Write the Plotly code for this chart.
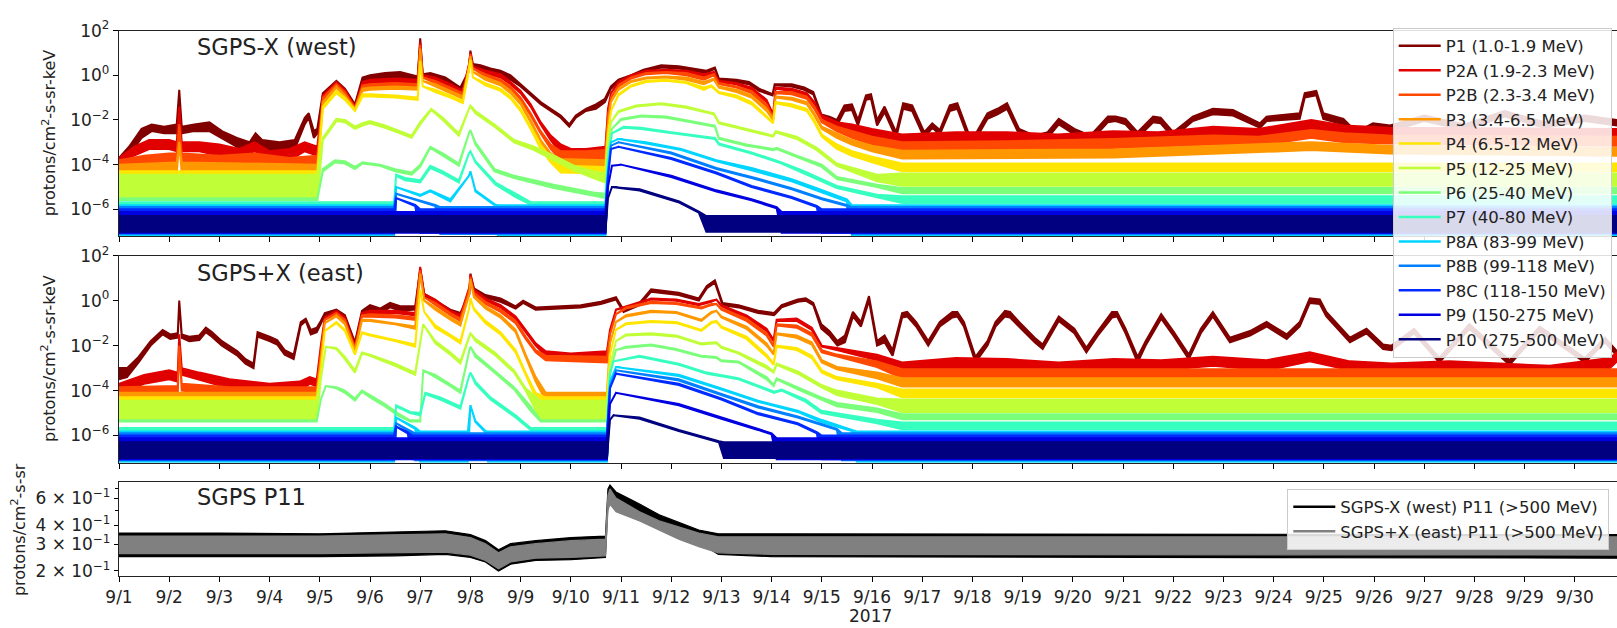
import numpy as np
import pandas as pd
import plotly.graph_objects as go

START = pd.Timestamp("2017-09-01")
X_END_DAYS = 29.84
DAY_TICKS = list(range(30))
DAY_LABELS = [f"9/{d + 1}" for d in DAY_TICKS]

CHANNELS = ["P1 (1.0-1.9 MeV)", "P2A (1.9-2.3 MeV)", "P2B (2.3-3.4 MeV)", "P3 (3.4-6.5 MeV)",
            "P4 (6.5-12 MeV)", "P5 (12-25 MeV)", "P6 (25-40 MeV)", "P7 (40-80 MeV)",
            "P8A (83-99 MeV)", "P8B (99-118 MeV)", "P8C (118-150 MeV)", "P9 (150-275 MeV)",
            "P10 (275-500 MeV)"]
P11_NAMES = ["SGPS-X (west) P11 (>500 MeV)", "SGPS+X (east) P11 (>500 MeV)"]

# ---- data: (day since 9/1 00:00, log10 flux low, log10 flux high) ----
W_P1 = [(0.00,-4.2,-3.7),(0.20,-3.6,-3.2),(0.45,-2.8,-2.4),(0.65,-2.5,-2.2),(0.90,-2.6,-2.3),(1.15,-2.6,-2.2),(1.20,-0.65,-0.65),(1.25,-2.6,-2.3),(1.50,-2.5,-2.2),(1.80,-2.5,-2.1),(2.05,-2.8,-2.5),(2.35,-3.2,-2.8),(2.60,-3.4,-3.0),(2.72,-2.9,-2.6),(2.85,-3.3,-2.9),(3.20,-3.4,-3.0),(3.50,-3.3,-2.9),(3.70,-2.2,-1.9),(3.78,-1.9,-1.7),(3.88,-2.8,-2.5),(3.95,-2.6,-2.4),(4.06,-0.9,-0.8),(4.33,-0.35,-0.25),(4.50,-0.8,-0.6),(4.70,-1.45,-1.3),(4.85,-0.3,-0.1),(5.00,-0.2,0.0),(5.30,-0.15,0.1),(5.60,-0.1,0.15),(5.95,-0.25,-0.05),(6.00,1.65,1.65),(6.05,0.0,0.05),(6.20,-0.1,0.1),(6.50,-0.3,-0.1),(6.80,-0.7,-0.55),(6.97,0.2,0.2),(7.00,1.1,1.1),(7.05,0.5,0.5),(7.20,0.25,0.45),(7.40,0.1,0.3),(7.60,0.0,0.2),(7.80,-0.2,0.0),(8.00,-0.5,-0.4),(8.20,-0.9,-0.8),(8.40,-1.3,-1.2),(8.60,-1.6,-1.5),(8.80,-1.9,-1.8),(8.97,-2.3,-2.2),(9.10,-1.9,-1.8),(9.30,-1.6,-1.5),(9.50,-1.5,-1.3),(9.68,-1.2,-1.05),(9.80,-0.6,-0.5),(9.95,-0.3,-0.2),(10.20,-0.05,0.0),(10.45,0.15,0.25),(10.80,0.35,0.45),(11.15,0.3,0.4),(11.45,0.2,0.3),(11.70,0.1,0.2),(11.87,0.3,0.35),(11.95,-0.2,-0.15),(12.30,-0.3,-0.2),(12.55,-0.4,-0.3),(12.75,-0.7,-0.6),(13.02,-0.9,-0.85),(13.06,-0.45,-0.4),(13.40,-0.5,-0.4),(13.65,-0.65,-0.55),(13.83,-0.85,-0.75),(13.99,-1.85,-1.75),(14.15,-2.05,-1.85),(14.30,-2.25,-2.0),(14.45,-1.6,-1.35),(14.60,-1.55,-1.3),(14.72,-2.25,-2.0),(14.88,-1.1,-0.9),(14.98,-1.05,-0.85),(15.10,-2.25,-2.0),(15.25,-1.65,-1.4),(15.48,-2.8,-2.55),(15.62,-1.5,-1.25),(15.80,-1.6,-1.35),(16.04,-2.8,-2.55),(16.20,-2.35,-2.15),(16.35,-2.65,-2.45),(16.55,-1.6,-1.35),(16.70,-1.5,-1.25),(16.98,-3.2,-2.95),(17.30,-1.95,-1.7),(17.50,-1.75,-1.5),(17.69,-1.5,-1.25),(17.93,-2.65,-2.4),(18.24,-2.95,-2.7),(18.50,-2.8,-2.55),(18.72,-2.2,-1.95),(19.03,-2.65,-2.4),(19.35,-2.95,-2.7),(19.70,-2.1,-1.85),(19.85,-2.05,-1.85),(20.05,-2.2,-1.95),(20.29,-2.8,-2.55),(20.60,-2.1,-1.85),(20.75,-2.15,-1.9),(21.00,-2.8,-2.55),(21.39,-2.05,-1.85),(21.79,-1.75,-1.5),(22.19,-1.8,-1.55),(22.73,-2.35,-2.15),(22.86,-2.05,-1.85),(23.52,-1.95,-1.7),(23.62,-1.0,-0.8),(23.85,-0.9,-0.7),(23.99,-1.95,-1.7),(24.39,-2.2,-1.95),(24.65,-2.8,-2.55),(24.98,-2.35,-2.15),(25.32,-2.5,-2.25),(26.00,-2.05,-1.8),(26.80,-2.45,-2.2),(27.60,-1.85,-1.6),(28.40,-2.35,-2.1),(29.20,-2.05,-1.8),(29.84,-2.25,-2.0)]
W_P2A = [(0.00,-4.1,-3.7),(0.30,-3.6,-3.2),(0.60,-3.3,-2.9),(1.00,-3.3,-2.9),(1.15,-3.4,-3.0),(1.20,-1.4,-1.4),(1.25,-3.4,-3.0),(1.60,-3.4,-3.0),(2.00,-3.6,-3.1),(2.40,-3.7,-3.3),(2.70,-3.4,-3.0),(3.00,-3.8,-3.4),(3.40,-3.8,-3.3),(3.70,-3.4,-3.0),(3.95,-3.6,-3.2),(4.06,-1.0,-0.9),(4.33,-0.35,-0.3),(4.50,-0.75,-0.65),(4.70,-1.45,-1.4),(4.85,-0.4,-0.3),(5.00,-0.35,-0.2),(5.50,-0.3,-0.15),(5.95,-0.35,-0.2),(6.00,1.5,1.5),(6.05,0.0,0.0),(6.30,-0.2,-0.1),(6.60,-0.5,-0.4),(6.85,-0.75,-0.7),(6.97,0.5,0.5),(7.00,1.0,1.0),(7.05,0.4,0.4),(7.30,0.1,0.2),(7.60,-0.1,0.05),(7.80,-0.4,-0.3),(8.00,-0.8,-0.7),(8.20,-1.4,-1.3),(8.40,-2.2,-2.1),(8.60,-2.9,-2.7),(8.80,-3.5,-3.1),(9.00,-3.7,-3.3),(9.30,-3.7,-3.3),(9.69,-3.6,-3.2),(9.74,-1.5,-1.5),(9.80,-0.8,-0.8),(9.95,-0.35,-0.3),(10.20,-0.05,0.0),(10.50,0.15,0.2),(10.90,0.2,0.25),(11.30,0.1,0.2),(11.65,-0.05,0.05),(11.85,0.1,0.15),(11.95,-0.3,-0.25),(12.30,-0.4,-0.35),(12.60,-0.65,-0.55),(12.90,-1.2,-1.1),(13.03,-1.8,-1.75),(13.08,-0.6,-0.55),(13.40,-0.7,-0.6),(13.70,-0.9,-0.8),(13.85,-1.3,-1.2),(14.00,-1.9,-1.8),(14.30,-2.3,-2.1),(14.60,-2.5,-2.2),(15.00,-2.8,-2.4),(15.60,-3.1,-2.65),(16.67,-2.95,-2.55),(17.70,-3.0,-2.55),(18.70,-3.1,-2.65),(19.80,-2.95,-2.5),(20.70,-3.0,-2.55),(21.80,-2.75,-2.3),(22.70,-2.85,-2.4),(23.75,-2.4,-2.0),(24.40,-2.65,-2.25),(25.30,-2.75,-2.35),(29.84,-2.85,-2.4)]
W_P2B = [(0.00,-4.3,-3.8),(0.50,-4.1,-3.6),(1.00,-4.0,-3.5),(1.15,-4.0,-3.5),(1.20,-2.2,-2.2),(1.25,-3.9,-3.5),(2.00,-4.2,-3.6),(2.70,-4.0,-3.5),(3.40,-4.3,-3.7),(3.95,-4.1,-3.6),(4.06,-1.1,-1.0),(4.33,-0.45,-0.4),(4.50,-0.85,-0.75),(4.70,-1.5,-1.45),(4.85,-0.55,-0.45),(5.00,-0.5,-0.4),(5.50,-0.45,-0.35),(5.95,-0.5,-0.4),(6.00,1.35,1.35),(6.05,-0.1,-0.1),(6.30,-0.35,-0.25),(6.60,-0.65,-0.55),(6.85,-0.9,-0.8),(6.97,0.4,0.4),(7.00,0.95,0.95),(7.05,0.3,0.3),(7.30,-0.05,0.05),(7.60,-0.3,-0.2),(7.80,-0.6,-0.5),(8.00,-1.1,-1.0),(8.20,-1.8,-1.7),(8.40,-2.6,-2.5),(8.60,-3.3,-3.1),(8.80,-3.8,-3.4),(9.30,-3.9,-3.4),(9.69,-3.8,-3.35),(9.74,-1.8,-1.8),(9.80,-1.0,-1.0),(9.95,-0.5,-0.45),(10.20,-0.15,-0.1),(10.50,0.05,0.1),(10.90,0.1,0.15),(11.30,0.0,0.1),(11.65,-0.2,-0.1),(11.85,0.0,0.05),(11.95,-0.4,-0.35),(12.30,-0.55,-0.5),(12.60,-0.8,-0.7),(12.90,-1.4,-1.3),(13.03,-1.95,-1.9),(13.08,-0.8,-0.75),(13.40,-0.85,-0.75),(13.70,-1.05,-0.95),(13.85,-1.5,-1.4),(14.00,-2.1,-2.0),(14.30,-2.5,-2.3),(14.60,-2.8,-2.5),(15.00,-3.1,-2.75),(15.60,-3.4,-3.0),(17.70,-3.35,-2.95),(19.80,-3.25,-2.85),(21.80,-3.1,-2.7),(22.70,-3.15,-2.75),(23.75,-2.8,-2.45),(24.40,-3.0,-2.6),(25.30,-3.05,-2.7),(29.84,-3.15,-2.75)]
W_P3 = [(0.00,-4.45,-4.0),(1.15,-4.4,-3.9),(1.20,-3.0,-3.0),(1.25,-4.4,-3.9),(3.95,-4.45,-4.0),(4.06,-1.3,-1.2),(4.33,-0.55,-0.5),(4.50,-1.0,-0.9),(4.70,-1.55,-1.5),(4.85,-0.7,-0.6),(5.00,-0.65,-0.55),(5.50,-0.6,-0.5),(5.95,-0.65,-0.55),(6.00,1.2,1.2),(6.05,-0.25,-0.25),(6.30,-0.5,-0.4),(6.60,-0.8,-0.7),(6.85,-1.05,-0.95),(6.97,0.3,0.3),(7.00,0.85,0.85),(7.05,0.15,0.15),(7.30,-0.2,-0.1),(7.60,-0.45,-0.35),(7.80,-0.8,-0.7),(8.00,-1.3,-1.2),(8.20,-2.1,-2.0),(8.40,-3.0,-2.9),(8.60,-3.7,-3.5),(8.80,-4.1,-3.75),(9.69,-4.15,-3.8),(9.74,-2.2,-2.2),(9.80,-1.2,-1.2),(9.95,-0.65,-0.6),(10.20,-0.3,-0.25),(10.50,-0.15,-0.1),(10.90,-0.1,-0.05),(11.30,-0.2,-0.1),(11.65,-0.4,-0.3),(11.85,-0.2,-0.15),(11.95,-0.55,-0.5),(12.30,-0.75,-0.65),(12.60,-1.0,-0.9),(12.90,-1.6,-1.5),(13.03,-2.0,-1.95),(13.08,-1.0,-0.95),(13.40,-1.1,-1.0),(13.70,-1.3,-1.2),(13.85,-1.8,-1.7),(14.00,-2.4,-2.3),(14.30,-2.8,-2.6),(14.60,-3.1,-2.9),(15.00,-3.4,-3.15),(15.60,-3.72,-3.38),(19.80,-3.68,-3.32),(21.80,-3.5,-3.15),(23.75,-3.35,-3.0),(25.30,-3.5,-3.15),(29.84,-3.6,-3.25)]
W_P4 = [(0.00,-4.55,-4.3),(3.95,-4.55,-4.3),(4.06,-1.5,-1.4),(4.33,-0.8,-0.7),(4.50,-1.1,-1.0),(4.70,-1.6,-1.55),(4.85,-0.95,-0.85),(5.00,-0.95,-0.85),(5.50,-1.0,-0.9),(5.95,-1.1,-1.0),(6.00,0.65,0.65),(6.05,-0.5,-0.5),(6.30,-0.75,-0.65),(6.60,-1.0,-0.9),(6.85,-1.25,-1.15),(6.97,0.2,0.2),(7.00,0.7,0.7),(7.05,-0.1,-0.1),(7.30,-0.45,-0.35),(7.60,-0.7,-0.6),(7.80,-1.05,-0.95),(8.00,-1.6,-1.5),(8.20,-2.4,-2.3),(8.40,-3.3,-3.1),(8.60,-3.9,-3.7),(8.80,-4.35,-4.05),(9.69,-4.4,-4.1),(9.74,-2.6,-2.6),(9.80,-1.6,-1.6),(9.95,-0.9,-0.85),(10.20,-0.5,-0.45),(10.50,-0.3,-0.25),(10.90,-0.25,-0.2),(11.30,-0.35,-0.3),(11.65,-0.65,-0.55),(11.80,-0.5,-0.45),(11.95,-0.8,-0.75),(12.30,-1.0,-0.9),(12.60,-1.3,-1.2),(12.90,-1.9,-1.8),(13.03,-2.15,-2.1),(13.08,-1.25,-1.2),(13.40,-1.4,-1.3),(13.70,-1.6,-1.5),(13.85,-2.1,-2.0),(14.00,-2.75,-2.65),(14.30,-3.3,-3.1),(14.60,-3.6,-3.4),(15.00,-3.9,-3.65),(15.60,-4.3,-3.95),(29.84,-4.3,-3.95)]
W_P5 = [(0.00,-5.55,-4.45),(3.95,-5.55,-4.45),(4.06,-2.9,-2.8),(4.33,-2.05,-1.95),(4.50,-2.1,-2.0),(4.70,-2.4,-2.3),(4.85,-2.25,-2.15),(5.00,-2.15,-2.05),(5.30,-2.35,-2.25),(5.60,-2.6,-2.5),(5.83,-2.8,-2.7),(6.00,-2.2,-2.1),(6.22,-1.55,-1.5),(6.45,-2.0,-1.9),(6.77,-2.7,-2.6),(6.97,-1.5,-1.5),(7.00,-1.4,-1.35),(7.10,-1.7,-1.6),(7.48,-2.3,-2.2),(7.87,-3.0,-2.9),(8.27,-3.35,-3.2),(8.66,-3.8,-3.6),(9.06,-4.25,-4.05),(9.45,-4.6,-4.3),(9.69,-4.8,-4.4),(9.74,-3.0,-3.0),(9.80,-2.1,-2.1),(9.95,-1.65,-1.6),(10.30,-1.4,-1.35),(10.80,-1.3,-1.25),(11.30,-1.45,-1.4),(11.65,-1.65,-1.6),(11.85,-1.75,-1.7),(11.95,-2.15,-2.1),(12.50,-2.45,-2.4),(13.03,-2.75,-2.7),(13.08,-2.55,-2.5),(13.50,-2.85,-2.75),(13.90,-3.35,-3.25),(14.30,-4.05,-3.95),(15.10,-4.75,-4.45),(15.60,-4.95,-4.4),(29.84,-4.95,-4.4)]
W_P6 = [(0.00,-5.58,-5.5),(3.95,-5.58,-5.5),(4.06,-4.3,-4.2),(4.30,-3.9,-3.8),(4.50,-3.95,-3.85),(4.70,-4.2,-4.1),(4.85,-3.95,-3.9),(5.20,-4.05,-4.0),(5.50,-4.3,-4.2),(5.83,-4.45,-4.35),(6.00,-4.1,-4.0),(6.20,-3.25,-3.2),(6.45,-3.6,-3.5),(6.77,-4.05,-3.95),(6.97,-2.6,-2.6),(7.00,-2.45,-2.45),(7.10,-3.1,-3.0),(7.48,-4.3,-4.2),(7.87,-4.6,-4.5),(8.66,-5.05,-4.9),(9.45,-5.4,-5.25),(9.69,-5.5,-5.3),(9.74,-3.4,-3.4),(9.82,-2.4,-2.4),(10.00,-2.0,-1.95),(10.40,-1.85,-1.8),(10.90,-1.9,-1.85),(11.40,-2.1,-2.05),(11.87,-2.3,-2.25),(11.95,-2.85,-2.8),(12.50,-3.15,-3.1),(13.03,-3.35,-3.3),(13.10,-3.3,-3.25),(13.50,-3.65,-3.6),(14.00,-4.1,-4.0),(14.30,-4.65,-4.55),(15.10,-5.0,-4.9),(15.60,-5.28,-5.05),(29.84,-5.28,-5.05)]
W_P7 = [(0.00,-5.78,-5.68),(5.48,-5.78,-5.68),(5.52,-4.5,-4.45),(5.70,-4.7,-4.6),(6.00,-4.8,-4.7),(6.20,-4.15,-4.05),(6.45,-4.4,-4.3),(6.77,-4.8,-4.7),(6.97,-3.5,-3.5),(7.00,-3.4,-3.4),(7.10,-3.9,-3.85),(7.50,-4.9,-4.8),(7.90,-5.45,-5.3),(8.20,-5.78,-5.68),(9.69,-5.78,-5.68),(9.74,-3.8,-3.8),(9.82,-2.6,-2.6),(10.05,-2.35,-2.3),(10.40,-2.4,-2.35),(11.00,-2.6,-2.55),(11.87,-2.85,-2.8),(11.95,-3.1,-3.05),(12.60,-3.5,-3.45),(13.20,-3.95,-3.9),(13.60,-4.35,-4.25),(14.00,-4.75,-4.65),(14.30,-5.05,-4.95),(15.10,-5.45,-5.35),(15.60,-5.72,-5.42),(29.84,-5.72,-5.42)]
W_P8A = [(0.00,-7.2,-5.82),(5.48,-7.2,-5.82),(5.52,-5.0,-5.0),(6.00,-5.4,-5.35),(6.20,-5.2,-5.15),(6.60,-5.65,-5.55),(6.97,-4.5,-4.5),(7.00,-4.3,-4.3),(7.10,-5.2,-5.15),(7.50,-5.85,-5.8),(7.55,-7.2,-5.82),(9.69,-7.2,-5.82),(9.74,-4.2,-4.2),(9.80,-3.0,-3.0),(9.95,-2.85,-2.85),(10.50,-3.05,-3.0),(11.20,-3.35,-3.3),(11.90,-3.85,-3.8),(12.60,-4.25,-4.15),(13.40,-4.75,-4.65),(13.90,-5.15,-5.05),(14.50,-5.65,-5.55),(14.60,-7.2,-5.82),(29.84,-7.2,-5.82)]
W_P8B = [(0.00,-7.1,-5.9),(5.48,-7.1,-5.9),(5.52,-5.3,-5.3),(6.00,-5.65,-5.6),(6.30,-5.85,-5.8),(6.40,-7.1,-5.9),(9.69,-7.1,-5.9),(9.74,-4.4,-4.4),(9.80,-3.15,-3.15),(9.95,-3.0,-3.0),(11.00,-3.5,-3.45),(11.90,-4.2,-4.15),(12.60,-4.6,-4.55),(13.40,-5.1,-5.05),(14.00,-5.55,-5.5),(14.50,-5.85,-5.8),(14.60,-7.1,-5.9),(29.84,-7.1,-5.9)]
W_P8C = [(0.00,-7.05,-6.0),(5.48,-7.05,-6.0),(5.52,-5.5,-5.5),(5.90,-5.85,-5.8),(6.00,-7.05,-6.0),(9.69,-7.05,-6.0),(9.74,-4.6,-4.6),(9.80,-3.3,-3.3),(9.95,-3.2,-3.2),(11.00,-3.75,-3.7),(11.90,-4.4,-4.35),(12.60,-5.0,-4.95),(13.40,-5.5,-5.45),(13.90,-5.9,-5.85),(14.00,-7.05,-6.0),(29.84,-7.05,-6.0)]
W_P9 = [(0.00,-7.05,-6.12),(9.69,-7.05,-6.12),(9.74,-5.0,-5.0),(9.82,-4.05,-4.05),(10.00,-4.0,-4.0),(11.00,-4.55,-4.5),(11.90,-5.2,-5.15),(12.60,-5.6,-5.55),(13.10,-5.95,-5.9),(13.20,-7.05,-6.12),(29.84,-7.05,-6.12)]
W_P10 = [(0.00,-7.0,-6.3),(9.69,-7.0,-6.3),(9.74,-5.5,-5.5),(9.82,-5.0,-5.0),(10.37,-5.16,-5.1),(11.16,-5.7,-5.65),(11.55,-6.15,-6.1),(11.70,-7.0,-6.3),(29.84,-7.0,-6.3)]

E_P1 = [(0.00,-3.5,-3.0),(0.16,-3.4,-3.0),(0.39,-2.75,-2.5),(0.63,-2.0,-1.8),(0.87,-1.5,-1.3),(1.02,-1.7,-1.5),(1.17,-1.65,-1.45),(1.20,0.0,0.0),(1.25,-1.65,-1.5),(1.40,-1.8,-1.6),(1.60,-1.75,-1.55),(1.73,-1.4,-1.2),(1.85,-1.6,-1.4),(2.05,-2.0,-1.8),(2.36,-2.45,-2.25),(2.52,-2.8,-2.6),(2.68,-3.0,-2.8),(2.76,-1.6,-1.4),(3.00,-1.8,-1.6),(3.15,-1.95,-1.75),(3.30,-2.4,-2.2),(3.48,-2.6,-2.4),(3.62,-1.1,-0.95),(3.72,-0.9,-0.8),(3.82,-1.5,-1.3),(3.94,-1.4,-1.2),(4.02,-1.0,-0.9),(4.10,-0.65,-0.55),(4.33,-0.5,-0.4),(4.50,-0.75,-0.65),(4.70,-1.95,-1.85),(4.84,-0.55,-0.45),(5.00,-0.4,-0.2),(5.20,-0.55,-0.35),(5.40,-0.3,-0.1),(5.60,-0.45,-0.25),(5.90,-0.4,-0.25),(6.00,1.4,1.4),(6.08,0.2,0.3),(6.30,-0.1,0.0),(6.60,-0.5,-0.4),(6.80,-0.65,-0.55),(6.98,0.3,0.3),(7.00,1.2,1.2),(7.07,0.45,0.55),(7.30,0.15,0.25),(7.60,-0.05,0.1),(7.90,-0.35,-0.25),(8.05,-0.1,0.0),(8.30,-0.4,-0.3),(8.80,-0.35,-0.25),(9.20,-0.3,-0.2),(9.60,-0.15,-0.05),(9.90,0.05,0.15),(10.05,-0.5,-0.4),(10.37,-0.2,-0.1),(10.60,0.4,0.5),(11.15,0.25,0.35),(11.55,0.0,0.1),(11.71,0.55,0.65),(11.87,0.8,0.9),(12.02,-0.2,-0.1),(12.34,-0.3,-0.2),(12.73,-0.55,-0.45),(13.05,-0.65,-0.55),(13.20,-0.3,-0.2),(13.52,-0.05,0.05),(13.68,0.0,0.1),(13.83,-0.2,-0.1),(13.99,-1.25,-1.05),(14.15,-1.55,-1.35),(14.31,-2.0,-1.8),(14.46,-1.85,-1.55),(14.62,-0.7,-0.5),(14.78,-1.15,-0.95),(14.94,0.0,0.2),(15.10,-2.0,-1.8),(15.25,-1.85,-1.55),(15.41,-2.45,-2.2),(15.60,-0.75,-0.55),(15.70,-0.7,-0.5),(15.88,-1.15,-0.95),(16.12,-2.0,-1.8),(16.35,-1.15,-0.95),(16.60,-0.75,-0.5),(16.70,-0.7,-0.5),(16.83,-1.15,-0.95),(17.06,-2.75,-2.5),(17.30,-2.0,-1.8),(17.46,-1.15,-0.95),(17.65,-0.7,-0.45),(17.75,-0.75,-0.5),(17.93,-1.15,-0.95),(18.24,-1.85,-1.65),(18.40,-2.15,-1.95),(18.72,-0.9,-0.7),(19.03,-1.45,-1.25),(19.27,-2.3,-2.1),(19.50,-1.55,-1.35),(19.78,-0.75,-0.5),(19.88,-0.7,-0.5),(20.05,-1.45,-1.25),(20.29,-2.75,-2.5),(20.45,-2.0,-1.8),(20.76,-0.8,-0.6),(21.00,-1.55,-1.35),(21.31,-2.6,-2.4),(21.55,-1.45,-1.25),(21.79,-0.7,-0.5),(22.13,-1.85,-1.65),(22.53,-1.55,-1.35),(22.86,-1.15,-0.95),(23.26,-1.7,-1.5),(23.52,-1.15,-0.95),(23.72,-0.1,0.1),(23.92,-0.15,0.05),(24.05,-0.7,-0.5),(24.52,-1.85,-1.65),(24.85,-1.45,-1.25),(25.18,-2.15,-1.95),(25.35,-2.2,-2.0),(25.80,-1.45,-1.25),(26.30,-2.75,-2.55),(26.90,-1.25,-1.05),(27.70,-2.85,-2.65),(28.30,-1.35,-1.15),(29.20,-2.75,-2.55),(29.60,-1.85,-1.65),(29.84,-2.45,-2.25)]
E_P2A = [(0.00,-4.1,-3.7),(0.50,-3.7,-3.3),(1.00,-3.5,-3.1),(1.17,-3.6,-3.2),(1.20,-1.5,-1.5),(1.25,-3.3,-3.0),(1.60,-3.5,-3.2),(2.20,-3.9,-3.5),(3.00,-4.1,-3.7),(3.60,-4.0,-3.6),(3.80,-3.7,-3.4),(3.94,-3.8,-3.5),(4.02,-2.0,-2.0),(4.10,-0.75,-0.75),(4.33,-0.5,-0.45),(4.50,-0.8,-0.75),(4.70,-2.05,-2.0),(4.84,-0.6,-0.55),(5.00,-0.55,-0.45),(5.50,-0.55,-0.45),(5.90,-0.65,-0.55),(6.00,1.5,1.5),(6.08,0.3,0.3),(6.30,-0.05,0.05),(6.60,-0.5,-0.45),(6.80,-0.75,-0.65),(6.98,0.6,0.6),(7.00,1.15,1.15),(7.07,0.4,0.5),(7.30,0.0,0.1),(7.60,-0.3,-0.2),(7.90,-0.8,-0.7),(8.10,-1.4,-1.3),(8.30,-2.0,-1.9),(8.50,-2.45,-2.25),(9.00,-2.55,-2.35),(9.72,-2.45,-2.25),(9.78,-1.3,-1.3),(9.90,-0.4,-0.4),(10.10,-0.3,-0.25),(10.60,0.05,0.1),(11.10,0.0,0.05),(11.55,-0.2,-0.15),(11.80,-0.05,0.0),(11.90,0.05,0.05),(12.00,-0.25,-0.2),(12.50,-0.75,-0.65),(12.90,-1.35,-1.25),(13.04,-1.8,-1.75),(13.10,-0.9,-0.85),(13.50,-0.9,-0.8),(13.80,-1.3,-1.2),(14.00,-2.05,-2.0),(14.30,-2.2,-2.1),(15.10,-2.65,-2.4),(15.60,-3.2,-2.75),(16.67,-3.0,-2.55),(17.69,-3.0,-2.6),(18.72,-3.2,-2.75),(19.82,-3.0,-2.6),(20.76,-3.1,-2.65),(21.79,-2.9,-2.5),(22.86,-3.1,-2.65),(23.72,-2.7,-2.3),(24.52,-3.1,-2.7),(25.35,-3.2,-2.8),(26.50,-3.1,-2.7),(27.50,-3.2,-2.8),(28.50,-3.3,-2.9),(29.70,-3.0,-2.55),(29.84,-2.7,-2.3)]
E_P2B = [(0.00,-4.3,-3.85),(1.17,-4.2,-3.8),(1.20,-2.0,-2.0),(1.25,-4.0,-3.7),(2.20,-4.3,-3.85),(3.94,-4.3,-3.85),(4.02,-2.3,-2.3),(4.10,-0.85,-0.85),(4.33,-0.6,-0.55),(4.50,-0.9,-0.85),(4.70,-2.15,-2.1),(4.84,-0.7,-0.65),(5.00,-0.7,-0.6),(5.50,-0.75,-0.65),(5.90,-0.85,-0.75),(6.00,1.35,1.35),(6.08,0.15,0.15),(6.30,-0.2,-0.1),(6.60,-0.65,-0.55),(6.80,-0.9,-0.8),(6.98,0.5,0.5),(7.00,1.05,1.05),(7.07,0.3,0.35),(7.30,-0.15,-0.05),(7.60,-0.5,-0.4),(7.90,-1.0,-0.9),(8.10,-1.7,-1.6),(8.30,-2.3,-2.2),(8.50,-2.65,-2.45),(9.72,-2.75,-2.5),(9.78,-1.5,-1.5),(9.90,-0.6,-0.6),(10.10,-0.35,-0.3),(10.60,-0.1,-0.05),(11.10,-0.15,-0.1),(11.60,-0.35,-0.3),(11.80,-0.2,-0.15),(11.90,-0.15,-0.15),(12.00,-0.4,-0.35),(12.50,-0.9,-0.8),(12.90,-1.55,-1.45),(13.04,-2.05,-2.0),(13.10,-1.1,-1.05),(13.50,-1.2,-1.1),(13.80,-1.55,-1.45),(14.00,-2.3,-2.2),(14.30,-2.5,-2.4),(15.10,-2.95,-2.7),(15.60,-3.45,-3.05),(29.84,-3.45,-3.05)]
E_P3 = [(0.00,-4.45,-4.1),(3.94,-4.45,-4.1),(4.02,-2.6,-2.6),(4.10,-1.0,-1.0),(4.33,-0.7,-0.65),(4.50,-1.05,-1.0),(4.70,-2.25,-2.2),(4.84,-0.9,-0.85),(5.00,-0.9,-0.85),(5.50,-1.05,-1.0),(5.90,-1.25,-1.15),(6.00,1.2,1.2),(6.08,0.0,0.0),(6.30,-0.4,-0.3),(6.60,-0.85,-0.75),(6.80,-1.1,-1.0),(6.98,0.3,0.3),(7.00,0.95,0.95),(7.07,0.15,0.2),(7.30,-0.35,-0.25),(7.60,-0.75,-0.65),(7.90,-1.4,-1.3),(8.10,-2.5,-2.4),(8.30,-3.6,-3.4),(8.50,-4.45,-4.1),(9.72,-4.45,-4.1),(9.78,-1.9,-1.9),(9.90,-0.95,-0.95),(10.10,-0.7,-0.65),(10.60,-0.5,-0.45),(11.10,-0.55,-0.5),(11.60,-0.9,-0.85),(11.80,-0.55,-0.5),(11.90,-0.45,-0.45),(12.00,-0.75,-0.7),(12.50,-1.25,-1.15),(12.90,-2.0,-1.9),(13.04,-2.4,-2.35),(13.10,-1.5,-1.45),(13.50,-1.65,-1.55),(13.80,-1.95,-1.85),(14.00,-2.75,-2.65),(14.30,-3.05,-2.95),(15.10,-3.45,-3.2),(15.60,-3.82,-3.45),(29.84,-3.82,-3.45)]
E_P4 = [(0.00,-4.55,-4.3),(3.94,-4.55,-4.3),(4.02,-3.0,-3.0),(4.10,-1.35,-1.35),(4.33,-1.0,-0.95),(4.50,-1.35,-1.3),(4.70,-2.4,-2.35),(4.84,-1.45,-1.4),(5.00,-1.55,-1.5),(5.50,-1.8,-1.75),(5.90,-2.05,-1.95),(6.00,0.5,0.5),(6.08,-0.5,-0.5),(6.30,-1.2,-1.1),(6.60,-1.6,-1.5),(6.80,-1.9,-1.8),(6.98,-0.3,-0.3),(7.00,0.1,0.1),(7.07,-0.4,-0.35),(7.30,-1.0,-0.9),(7.60,-1.5,-1.4),(7.90,-2.3,-2.2),(8.10,-3.3,-3.2),(8.30,-4.3,-4.1),(8.50,-4.55,-4.3),(9.72,-4.55,-4.3),(9.78,-2.4,-2.4),(9.90,-1.3,-1.3),(10.10,-1.05,-1.0),(10.60,-0.95,-0.9),(11.10,-1.0,-0.95),(11.60,-1.35,-1.3),(11.80,-1.0,-0.95),(11.90,-0.95,-0.9),(12.00,-1.2,-1.15),(12.50,-1.7,-1.6),(12.90,-2.5,-2.4),(13.04,-2.85,-2.8),(13.10,-2.05,-2.0),(13.50,-2.2,-2.1),(13.80,-2.55,-2.45),(14.00,-3.2,-3.1),(14.30,-3.5,-3.4),(15.10,-3.85,-3.7),(15.60,-4.3,-3.95),(29.84,-4.3,-3.95)]
E_P5 = [(0.00,-5.3,-4.45),(3.94,-5.3,-4.45),(4.02,-3.5,-3.5),(4.12,-2.05,-2.05),(4.33,-2.15,-2.1),(4.50,-2.6,-2.5),(4.70,-3.2,-3.1),(4.84,-2.35,-2.3),(5.00,-2.45,-2.4),(5.50,-2.9,-2.8),(5.90,-3.3,-3.2),(6.00,-1.9,-1.9),(6.06,-1.05,-1.05),(6.30,-1.9,-1.8),(6.60,-2.4,-2.3),(6.80,-2.8,-2.7),(6.98,-1.6,-1.6),(7.00,-1.45,-1.45),(7.10,-1.8,-1.7),(7.48,-2.4,-2.3),(7.87,-3.2,-3.1),(8.10,-4.0,-3.9),(8.40,-5.3,-4.45),(9.72,-5.3,-4.45),(9.78,-2.9,-2.9),(9.90,-1.8,-1.8),(10.10,-1.55,-1.5),(10.60,-1.5,-1.45),(11.10,-1.6,-1.55),(11.60,-1.95,-1.9),(11.90,-1.9,-1.85),(12.00,-2.1,-2.05),(12.34,-2.35,-2.3),(12.90,-3.0,-2.9),(13.04,-3.2,-3.15),(13.10,-2.85,-2.8),(13.52,-3.25,-3.15),(13.99,-3.85,-3.75),(14.30,-4.2,-4.0),(15.10,-4.6,-4.35),(15.60,-4.95,-4.4),(29.84,-4.95,-4.4)]
E_P6 = [(0.00,-5.38,-5.32),(3.94,-5.38,-5.32),(4.02,-4.4,-4.4),(4.12,-3.8,-3.8),(4.33,-3.9,-3.85),(4.50,-4.1,-4.0),(4.70,-4.45,-4.35),(4.84,-4.05,-4.0),(5.00,-4.3,-4.2),(5.30,-4.7,-4.6),(5.55,-5.1,-5.0),(5.80,-5.38,-5.32),(6.00,-5.38,-5.32),(6.06,-3.1,-3.1),(6.30,-3.4,-3.3),(6.60,-3.8,-3.7),(6.80,-4.1,-4.0),(6.98,-2.2,-2.2),(7.00,-2.05,-2.05),(7.10,-2.5,-2.4),(7.48,-3.2,-3.1),(7.87,-3.95,-3.85),(8.20,-4.9,-4.7),(8.40,-5.38,-5.32),(9.72,-5.38,-5.32),(9.78,-3.2,-3.2),(9.90,-2.2,-2.2),(10.10,-2.1,-2.05),(10.60,-2.0,-1.95),(11.10,-2.2,-2.15),(11.60,-2.5,-2.45),(11.90,-2.55,-2.5),(12.00,-2.7,-2.65),(12.34,-2.75,-2.7),(12.90,-3.5,-3.4),(13.04,-3.8,-3.75),(13.10,-3.5,-3.45),(13.52,-3.95,-3.85),(13.99,-4.4,-4.3),(14.30,-4.7,-4.55),(15.10,-4.95,-4.8),(15.60,-5.28,-5.05),(29.84,-5.28,-5.05)]
E_P7 = [(0.00,-5.75,-5.66),(5.48,-5.75,-5.66),(5.52,-4.7,-4.65),(5.80,-5.0,-4.95),(6.00,-5.1,-5.0),(6.10,-4.15,-4.1),(6.40,-4.4,-4.3),(6.80,-4.8,-4.7),(6.98,-3.3,-3.3),(7.00,-3.2,-3.2),(7.10,-3.7,-3.6),(7.40,-4.4,-4.3),(7.90,-5.2,-5.1),(8.20,-5.75,-5.66),(9.72,-5.75,-5.66),(9.78,-3.3,-3.3),(9.85,-2.7,-2.7),(10.37,-2.5,-2.45),(11.15,-2.85,-2.8),(11.71,-3.25,-3.2),(12.34,-3.5,-3.45),(13.05,-4.1,-4.05),(13.20,-4.0,-3.95),(13.68,-4.5,-4.4),(13.99,-5.0,-4.9),(15.10,-5.45,-5.3),(15.60,-5.72,-5.42),(29.84,-5.72,-5.42)]
E_P8A = [(0.00,-7.2,-5.82),(5.48,-7.2,-5.82),(5.52,-5.2,-5.2),(5.90,-5.7,-5.65),(6.00,-7.2,-5.82),(6.95,-7.2,-5.82),(7.00,-4.65,-4.65),(7.10,-5.4,-5.35),(7.30,-5.85,-5.8),(7.35,-7.2,-5.82),(9.72,-7.2,-5.82),(9.78,-3.6,-3.6),(9.90,-2.95,-2.95),(11.15,-3.35,-3.3),(12.00,-3.95,-3.9),(12.73,-4.5,-4.45),(13.52,-4.95,-4.9),(13.99,-5.4,-5.3),(14.60,-5.8,-5.75),(14.70,-7.2,-5.82),(29.84,-7.2,-5.82)]
E_P8B = [(0.00,-7.1,-5.9),(5.48,-7.1,-5.9),(5.52,-5.45,-5.45),(5.80,-5.85,-5.8),(5.90,-7.1,-5.9),(9.72,-7.1,-5.9),(9.78,-3.8,-3.8),(9.90,-3.1,-3.1),(11.15,-3.55,-3.5),(12.00,-4.2,-4.15),(12.73,-4.75,-4.7),(13.52,-5.2,-5.15),(14.30,-5.75,-5.7),(14.40,-7.1,-5.9),(29.84,-7.1,-5.9)]
E_P8C = [(0.00,-7.05,-6.0),(5.48,-7.05,-6.0),(5.52,-5.6,-5.6),(5.75,-5.9,-5.85),(5.85,-7.05,-6.0),(9.72,-7.05,-6.0),(9.78,-3.9,-3.9),(9.90,-3.25,-3.25),(11.15,-3.75,-3.7),(12.00,-4.4,-4.35),(12.73,-5.05,-5.0),(13.52,-5.5,-5.45),(13.90,-5.9,-5.85),(14.00,-7.05,-6.0),(29.84,-7.05,-6.0)]
E_P9 = [(0.00,-7.05,-6.12),(9.72,-7.05,-6.12),(9.78,-4.6,-4.6),(9.90,-4.1,-4.1),(11.15,-4.65,-4.6),(12.00,-5.25,-5.2),(12.73,-5.75,-5.7),(13.00,-5.95,-5.9),(13.10,-7.05,-6.12),(29.84,-7.05,-6.12)]
E_P10 = [(0.00,-7.0,-6.3),(9.72,-7.0,-6.3),(9.78,-5.3,-5.3),(9.85,-5.1,-5.1),(10.37,-5.25,-5.2),(11.15,-5.8,-5.75),(11.95,-6.3,-6.25),(12.05,-7.0,-6.3),(29.84,-7.0,-6.3)]

P11_W = [(0.00,-0.605,-0.45),(2.00,-0.605,-0.45),(4.00,-0.605,-0.455),(5.50,-0.6,-0.445),(6.50,-0.59,-0.435),(7.00,-0.61,-0.46),(7.30,-0.64,-0.5),(7.56,-0.7,-0.56),(7.80,-0.655,-0.52),(8.30,-0.63,-0.5),(9.00,-0.625,-0.48),(9.69,-0.61,-0.47),(9.74,-0.25,-0.16),(9.78,-0.2,-0.135),(9.90,-0.24,-0.18),(10.37,-0.32,-0.26),(10.76,-0.39,-0.33),(11.15,-0.45,-0.38),(11.55,-0.51,-0.43),(11.94,-0.59,-0.455),(13.00,-0.605,-0.455),(29.84,-0.615,-0.46)]
P11_E = [(0.00,-0.585,-0.47),(4.00,-0.585,-0.47),(6.50,-0.575,-0.455),(7.00,-0.595,-0.48),(7.30,-0.63,-0.52),(7.56,-0.685,-0.58),(7.80,-0.64,-0.54),(8.30,-0.615,-0.52),(9.00,-0.61,-0.5),(9.69,-0.6,-0.49),(9.74,-0.3,-0.2),(9.78,-0.26,-0.16),(9.90,-0.31,-0.22),(10.37,-0.37,-0.31),(10.76,-0.43,-0.37),(11.15,-0.49,-0.41),(11.55,-0.54,-0.45),(11.94,-0.58,-0.475),(13.00,-0.59,-0.475),(29.84,-0.595,-0.475)]

WEST = [W_P1, W_P2A, W_P2B, W_P3, W_P4, W_P5, W_P6, W_P7, W_P8A, W_P8B, W_P8C, W_P9, W_P10]
EAST = [E_P1, E_P2A, E_P2B, E_P3, E_P4, E_P5, E_P6, E_P7, E_P8A, E_P8B, E_P8C, E_P9, E_P10]

# ---- styling ----
FONT = "DejaVu Sans, Verdana, sans-serif"
TXT = "#222222"


def jet(v):
    r = np.interp(v, [0, 0.35, 0.66, 0.89, 1], [0, 0, 1, 1, 0.5])
    g = np.interp(v, [0, 0.125, 0.375, 0.64, 0.91, 1], [0, 0, 1, 1, 0, 0])
    b = np.interp(v, [0, 0.11, 0.34, 0.65, 1], [0.5, 1, 1, 0, 0])
    return "rgb(%d,%d,%d)" % (round(r * 255), round(g * 255), round(b * 255))


COLORS = [jet(1 - i / 12) for i in range(13)]
P11_COLORS = ["#000000", "#808080"]


def to_dates(days):
    return [START + pd.Timedelta(days=float(d)) for d in days]


def band_xy(rows):
    t = [r[0] for r in rows]
    lo = [r[1] for r in rows]
    hi = [r[2] for r in rows]
    xs = t + t[::-1]
    ys = hi + lo[::-1]
    return to_dates(xs), [10.0 ** v for v in ys]


fig = go.Figure()

for panel, (xa, ya) in zip([WEST, EAST], [("x", "y"), ("x2", "y2")]):
    for rows, col in zip(panel, COLORS):
        xs, ys = band_xy(rows)
        fig.add_trace(go.Scatter(x=xs, y=ys, mode="lines", fill="toself", fillcolor=col,
                                 line=dict(color=col, width=2), showlegend=False,
                                 hoverinfo="skip", xaxis=xa, yaxis=ya))

for rows, col in zip([P11_W, P11_E], P11_COLORS):
    xs, ys = band_xy(rows)
    fig.add_trace(go.Scatter(x=xs, y=ys, mode="lines", fill="toself", fillcolor=col,
                             line=dict(color=col, width=1.2), showlegend=False,
                             hoverinfo="skip", xaxis="x3", yaxis="y3"))

# legend entries
for i, (name, col) in enumerate(zip(CHANNELS, COLORS)):
    fig.add_trace(go.Scatter(x=[None], y=[None], mode="lines", name=name,
                             line=dict(color=col, width=2.5), legend="legend",
                             legendgroup="g%d" % i, xaxis="x", yaxis="y"))
for i, (name, col) in enumerate(zip(P11_NAMES, P11_COLORS)):
    fig.add_trace(go.Scatter(x=[None], y=[None], mode="lines", name=name,
                             line=dict(color=col, width=2.5), legend="legend2",
                             legendgroup="h%d" % i, xaxis="x3", yaxis="y3"))

W, H = 1617, 628
L_M = 119


def ydom(top_px, bot_px):
    return [1 - bot_px / H, 1 - top_px / H]


def px_x(px):
    return (px - L_M) / (W - L_M)


x_range = [START, START + pd.Timedelta(days=X_END_DAYS)]
tickvals = to_dates(DAY_TICKS)

TICKFONT = dict(family=FONT, size=17, color=TXT)
xcommon = dict(type="date", range=x_range, tickmode="array", tickvals=tickvals, ticktext=DAY_LABELS,
               ticks="outside", ticklen=5, tickwidth=1.2, tickcolor="#000", showline=True,
               linecolor="#222", linewidth=1.3, mirror=True, showgrid=False, zeroline=False,
               tickfont=TICKFONT, domain=[0, 1])

ylog_vals = [1e-6, 1e-4, 1e-2, 1, 1e2]
ylog_text = ["10<sup>\u22126</sup>", "10<sup>\u22124</sup>", "10<sup>\u22122</sup>", "10<sup>0</sup>", "10<sup>2</sup>"]
ycommon = dict(type="log", range=[-7.2, 2.003], tickmode="array", tickvals=ylog_vals, ticktext=ylog_text,
               ticks="outside", ticklen=5, tickwidth=1.2, tickcolor="#000", showline=True,
               linecolor="#222", linewidth=1.3, showgrid=False, zeroline=False,
               tickfont=TICKFONT)

LEGFONT = dict(family=FONT, size=16.5, color=TXT)
fig.update_layout(
    width=W, height=H, margin=dict(l=L_M, r=0, t=0, b=0),
    paper_bgcolor="white", plot_bgcolor="white",
    font=dict(family=FONT, size=16, color=TXT),
    xaxis=dict(xcommon, anchor="y", showticklabels=False),
    xaxis2=dict(xcommon, anchor="y2", showticklabels=False),
    xaxis3=dict(xcommon, anchor="y3", showticklabels=True),
    yaxis=dict(ycommon, domain=ydom(19, 230), anchor="x"),
    yaxis2=dict(ycommon, domain=ydom(250, 462.3), anchor="x2"),
    yaxis3=dict(type="log", range=[-0.734, -0.117], domain=ydom(482.7, 579), anchor="x3",
                tickmode="array", tickvals=[0.2, 0.3, 0.4, 0.6],
                ticktext=["2 \u00d7 10<sup>\u22121</sup>", "3 \u00d7 10<sup>\u22121</sup>",
                          "4 \u00d7 10<sup>\u22121</sup>", "6 \u00d7 10<sup>\u22121</sup>"],
                ticks="outside", ticklen=4, tickwidth=1.2, tickcolor="#000", showline=True,
                linecolor="#222", linewidth=1.3, showgrid=False, zeroline=False,
                tickfont=TICKFONT,
                minor=dict(tickvals=[0.5, 0.7], ticks="outside", ticklen=3, tickcolor="#000")),
    legend=dict(x=px_x(1392.7), y=1 - 16 / H, xanchor="left", yanchor="top",
                bgcolor="rgba(255,255,255,0.85)", bordercolor="#cccccc", borderwidth=1,
                font=LEGFONT, tracegroupgap=0.6, itemwidth=42, traceorder="normal"),
    legend2=dict(x=px_x(1287.3), y=1 - 489 / H, xanchor="left", yanchor="top",
                 bgcolor="rgba(255,255,255,0.85)", bordercolor="#cccccc", borderwidth=1,
                 font=LEGFONT, tracegroupgap=0.6, itemwidth=42, traceorder="normal"),
)

ann = []
for txt, ypx in [("SGPS-X (west)", 35.7), ("SGPS+X (east)", 268.3), ("SGPS P11", 497.5)]:
    ann.append(dict(text=txt, x=px_x(195), y=1 - ypx / H, xref="paper", yref="paper",
                    xanchor="left", yanchor="middle", showarrow=False,
                    font=dict(family=FONT, size=22.5, color=TXT)))
for txt, xpx, ypx in [("protons/cm<sup>2</sup>-s-sr-keV", 49, 124.5),
                      ("protons/cm<sup>2</sup>-s-sr-keV", 49, 356),
                      ("protons/cm<sup>2</sup>-s-sr", 18.6, 531)]:
    ann.append(dict(text=txt, x=px_x(xpx), y=1 - ypx / H, xref="paper", yref="paper",
                    xanchor="center", yanchor="middle", textangle=-90, showarrow=False,
                    font=dict(family=FONT, size=16, color=TXT)))
ann.append(dict(text="2017", x=px_x(870), y=1 - 620 / H, xref="paper", yref="paper",
                xanchor="center", yanchor="middle", showarrow=False,
                font=dict(family=FONT, size=17, color=TXT)))
fig.update_layout(annotations=ann)

fig.write_html("out.html")
